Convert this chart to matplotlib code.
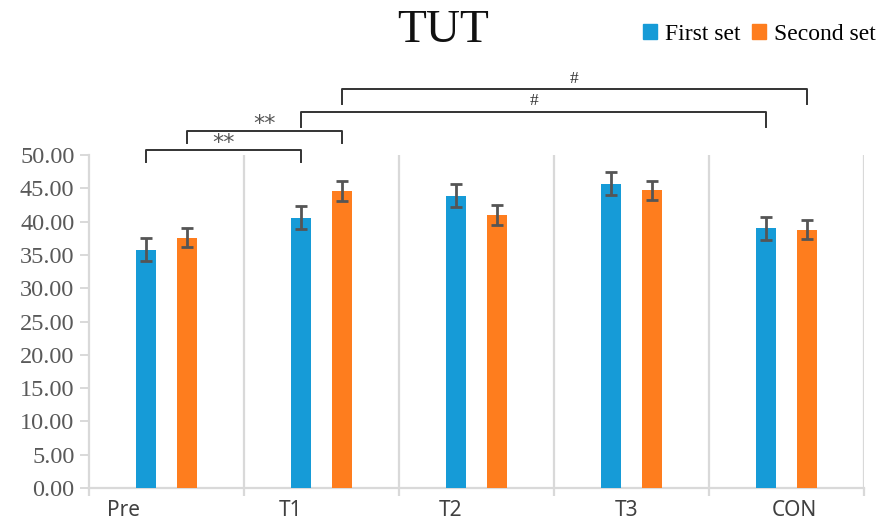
import numpy as np
import matplotlib
matplotlib.use("Agg")
import matplotlib.pyplot as plt
from matplotlib.patches import Patch

groups = ["Pre", "T1", "T2", "T3", "CON"]
first_set = [35.8, 40.6, 43.9, 45.7, 39.0]
first_err = [1.75, 1.75, 1.75, 1.75, 1.75]
second_set = [37.6, 44.6, 41.0, 44.7, 38.8]
second_err = [1.45, 1.5, 1.5, 1.45, 1.45]
# (left group, left series, right group, right series, label)
comparisons = [
    (0, 0, 1, 0, "**"),
    (0, 1, 1, 1, "**"),
    (1, 0, 4, 0, "#"),
    (1, 1, 4, 1, "#"),
]
yticks = np.arange(0, 50.01, 5)

blue = "#169bd7"
orange = "#fe7d1e"
grey = "#d9d9d9"

fig = plt.figure(figsize=(8.82, 5.27), dpi=100)
ax = fig.add_axes([89 / 882, 1 - 488 / 527, 775 / 882, 333 / 527])

x = np.arange(len(groups))
w = 0.13
off = 0.13
err_kw = dict(ecolor="#555555", elinewidth=2, capsize=4.5, capthick=2)
ax.bar(x - off, first_set, w, yerr=first_err, color=blue, error_kw=err_kw, zorder=3)
ax.bar(x + off, second_set, w, yerr=second_err, color=orange, error_kw=err_kw, zorder=3)

ax.set_xlim(-0.5, len(groups) - 0.5)
ax.set_ylim(0, 50)

# group separators
for b in np.arange(0.5, len(groups), 1.0):
    ax.axvline(b, color=grey, lw=1.6, zorder=1)
ax.set_xticks(np.arange(-0.5, len(groups), 1.0), minor=True)
ax.tick_params(axis="x", which="minor", length=6, width=1.6, color=grey)

label_shift = [-0.28, -0.2, -0.165, -0.035, 0.05]
ax.set_xticks(x + np.array(label_shift))
ax.set_xticklabels(groups, fontsize=15, color="#404040", family="Noto Sans")
ax.tick_params(axis="x", which="major", length=0, pad=9)

ax.set_yticks(yticks)
ax.set_yticklabels(["%.2f" % v for v in yticks], fontsize=17.5,
                   family="Liberation Serif", color="#595959")
ax.tick_params(axis="y", length=6.5, width=1.4, color=grey, pad=4)

for s in ["top", "right"]:
    ax.spines[s].set_visible(False)
for s in ["bottom", "left"]:
    ax.spines[s].set_color(grey)
    ax.spines[s].set_linewidth(1.6)

# significance brackets
levels = [50.75, 53.6, 56.5, 59.9]
drop = [1.8, 1.8, 2.3, 2.2]
for (g1, s1, g2, s2, lab), yl, d in zip(comparisons, levels, drop):
    x1 = g1 + (off if s1 else -off)
    x2 = g2 + (off if s2 else -off)
    ax.plot([x1, x1, x2, x2], [yl - d, yl, yl, yl - d], color="#333333",
            lw=1.4, clip_on=False, zorder=4)
    if lab == "#":
        ax.text((x1 + x2) / 2, yl + 0.35, lab, ha="center", va="bottom",
                fontsize=12.5, family="Liberation Serif", color="#333333")
    else:
        ax.text((x1 + x2) / 2, yl - 0.5, lab, ha="center", va="bottom",
                fontsize=16, color="#555555")

fig.text(443 / 882, 1 - 31 / 527, "TUT", ha="center", va="center",
         fontsize=34, family="Liberation Serif", color="#111111")

handles = [Patch(color=blue, label="First set"), Patch(color=orange, label="Second set")]
fig.legend(handles=handles, loc="upper right", bbox_to_anchor=(1.017, 0.995), ncol=2,
           frameon=False, handlelength=0.6, handleheight=0.6, handletextpad=0.35,
           columnspacing=0.45, prop={"family": "Liberation Serif", "size": 17})

fig.savefig("out.png", dpi=100)
